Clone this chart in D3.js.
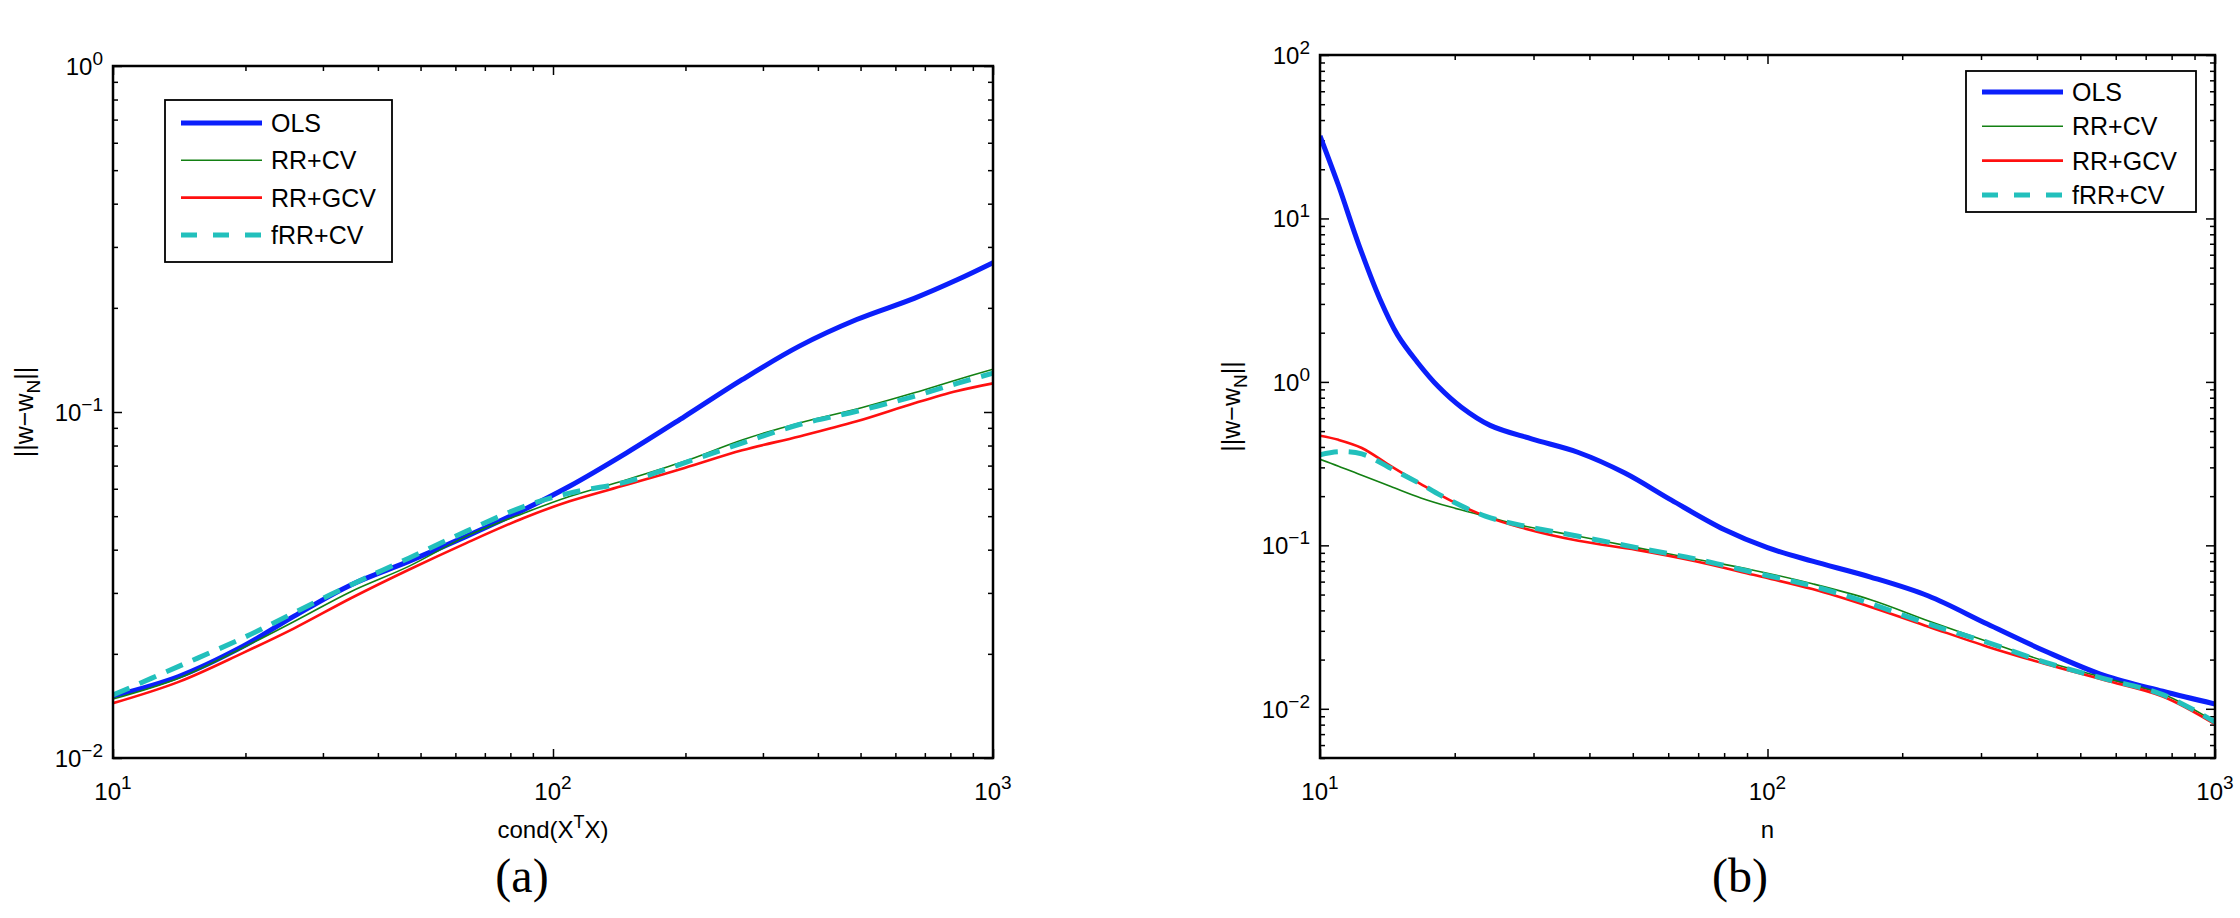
<!DOCTYPE html>
<html>
<head>
<meta charset="utf-8">
<script src="https://cdn.jsdelivr.net/npm/d3@7"></script>
<style>
  body { margin: 0; background: #fff; }
  text { font-family: "Liberation Sans", Arial, Helvetica, sans-serif; fill: #000; }
</style>
</head>
<body>
<svg id="chart" width="2240" height="918"></svg>
<script>
// panel (a): error vs cond(X'X)
const condX  = [10, 14.1, 19.7, 25.8, 34.8, 47, 63.5, 85.8, 109, 147, 199, 269, 363, 490, 662, 829, 1000];
const olsA   = [0.0151, 0.0172, 0.0210, 0.0257, 0.0317, 0.0370, 0.0437, 0.0522, 0.0610, 0.0762, 0.097, 0.124, 0.155, 0.185, 0.213, 0.241, 0.27];
const rrcvA  = [0.0148, 0.0170, 0.0208, 0.0248, 0.0303, 0.0358, 0.0437, 0.0510, 0.0570, 0.0637, 0.0720, 0.0830, 0.0930, 0.1020, 0.1136, 0.124, 0.133];
const rrgcvA = [0.0144, 0.0166, 0.0201, 0.0237, 0.0290, 0.0350, 0.0418, 0.0494, 0.0552, 0.0616, 0.0689, 0.0775, 0.0850, 0.0940, 0.106, 0.115, 0.121];
const frrcvA = [0.0152, 0.0184, 0.0222, 0.0263, 0.0317, 0.0378, 0.0452, 0.0533, 0.0583, 0.0628, 0.0713, 0.0813, 0.0920, 0.1005, 0.111, 0.121, 0.1295];

// panel (b): error vs n
const nOls   = [10, 11, 12.2, 13.6, 14.9, 16.5, 18.4, 20.7, 24, 29.7, 37.8, 48, 61, 80, 100, 126, 170, 229, 310, 418, 565, 764, 1000];
const olsB   = [32, 15.9, 6.95, 3.23, 1.94, 1.32, 0.933, 0.70, 0.542, 0.448, 0.37, 0.277, 0.189, 0.125, 0.0968, 0.080, 0.064, 0.049, 0.033, 0.0225, 0.0160, 0.0128, 0.0107];
const nRR    = [10, 11, 12.4, 14.4, 16.8, 19.5, 23.4, 28, 37.8, 51, 69, 93, 126, 170, 229, 310, 418, 565, 764, 1000];
const rrcvB  = [0.336, 0.305, 0.268, 0.229, 0.195, 0.172, 0.151, 0.133, 0.1136, 0.0968, 0.0826, 0.0705, 0.0582, 0.0465, 0.0345, 0.0258, 0.0195, 0.0155, 0.0123, 0.0083];
const rrgcvB = [0.468, 0.442, 0.394, 0.305, 0.237, 0.189, 0.151, 0.129, 0.1066, 0.0938, 0.080, 0.066, 0.0540, 0.0420, 0.0318, 0.0240, 0.0188, 0.0150, 0.0119, 0.00805];
const frrcvB = [0.358, 0.374, 0.363, 0.296, 0.237, 0.189, 0.151, 0.133, 0.1136, 0.0968, 0.0826, 0.0683, 0.0564, 0.0440, 0.0330, 0.0255, 0.0192, 0.0153, 0.0122, 0.0083];

const seriesNames = ['OLS', 'RR+CV', 'RR+GCV', 'fRR+CV'];

// line styles, same order as seriesNames
const styles = [
  { color: '#0b1ffb', width: 5, dash: null },
  { color: '#138013', width: 1.6, dash: null },
  { color: '#ff1010', width: 2.6, dash: null },
  { color: '#22c0bc', width: 5, dash: '18,11' }
];

const svg = d3.select('#chart');
svg.append('rect').attr('width', 2240).attr('height', 918).attr('fill', '#fff');

function pow10Label(sel, p, supDy) {
  sel.append('tspan').text('10');
  sel.append('tspan')
    .attr('dy', supDy)
    .style('font-size', '19px')
    .text(p < 0 ? '\u2212' + (-p) : String(p));
}

function drawPanel(o) {
  const x = d3.scaleLog().domain(o.xDomain).range([o.left, o.right]);
  const y = d3.scaleLog().domain(o.yDomain).range([o.bottom, o.top]);
  const g = svg.append('g');

  const clipId = 'clip' + o.tag.replace(/\W/g, '');
  g.append('clipPath').attr('id', clipId)
    .append('rect')
      .attr('x', o.left).attr('y', o.top)
      .attr('width', o.right - o.left).attr('height', o.bottom - o.top);

  // ticks, pointing inward on all four sides
  const xt = x.ticks().filter(v => v <= o.xDomain[1]);
  const yt = y.ticks().filter(v => v >= o.yDomain[0] && v <= o.yDomain[1]);
  const isMajor = v => Math.abs(Math.log10(v) - Math.round(Math.log10(v))) < 1e-9;

  const addAxis = (axis, tx, ty) => {
    g.append('g')
      .attr('transform', `translate(${tx},${ty})`)
      .call(axis)
      .call(s => s.select('.domain').remove())
      .call(s => s.selectAll('line').attr('stroke', '#000').attr('stroke-width', 1.5));
  };
  [[xt.filter(v => !isMajor(v)), 5], [xt.filter(isMajor), 9]].forEach(([vals, len]) => {
    addAxis(d3.axisBottom(x).tickValues(vals).tickSize(-len).tickFormat(''), 0, o.bottom);
    addAxis(d3.axisTop(x).tickValues(vals).tickSize(-len).tickFormat(''), 0, o.top);
  });
  [[yt.filter(v => !isMajor(v)), 5], [yt.filter(isMajor), 9]].forEach(([vals, len]) => {
    addAxis(d3.axisLeft(y).tickValues(vals).tickSize(-len).tickFormat(''), o.left, 0);
    addAxis(d3.axisRight(y).tickValues(vals).tickSize(-len).tickFormat(''), o.right, 0);
  });

  // curves
  const line = d3.line()
    .x(d => x(d[0]))
    .y(d => y(d[1]))
    .curve(d3.curveCatmullRom.alpha(0.5));

  o.series.forEach((s, i) => {
    const st = styles[i];
    g.append('path')
      .datum(d3.zip(s.x, s.y))
      .attr('clip-path', `url(#${clipId})`)
      .attr('fill', 'none')
      .attr('stroke', st.color)
      .attr('stroke-width', st.width)
      .attr('stroke-dasharray', st.dash)
      .attr('stroke-linejoin', 'round')
      .attr('d', line);
  });

  // frame
  g.append('rect')
    .attr('x', o.left).attr('y', o.top)
    .attr('width', o.right - o.left).attr('height', o.bottom - o.top)
    .attr('fill', 'none').attr('stroke', '#000').attr('stroke-width', 2.5);

  // tick labels
  xt.filter(isMajor).forEach(v => {
    g.append('text')
      .attr('x', x(v)).attr('y', o.bottom + 42)
      .attr('text-anchor', 'middle')
      .style('font-size', '24px')
      .call(pow10Label, Math.round(Math.log10(v)), -11);
  });
  yt.filter(isMajor).forEach(v => {
    g.append('text')
      .attr('x', o.left - 10).attr('y', y(v) + 9)
      .attr('text-anchor', 'end')
      .style('font-size', '24px')
      .call(pow10Label, Math.round(Math.log10(v)), -10);
  });

  // axis titles
  const xl = g.append('text')
    .attr('x', (o.left + o.right) / 2).attr('y', 838)
    .attr('text-anchor', 'middle')
    .style('font-size', '24px');
  o.xLabel(xl);

  const yl = g.append('text')
    .attr('transform', `translate(${o.left - 80},${(o.top + o.bottom) / 2}) rotate(-90)`)
    .attr('text-anchor', 'middle')
    .style('font-size', '25px');
  yl.append('tspan').text('||w\u2212w');
  yl.append('tspan').attr('dy', 7).style('font-size', '19px').text('N');
  yl.append('tspan').attr('dy', -7).text('||');

  g.append('text')
    .attr('x', o.tagX).attr('y', 892)
    .attr('text-anchor', 'middle')
    .style('font-family', '"Liberation Serif", "Times New Roman", serif')
    .style('font-size', '48px')
    .text(o.tag);

  // legend
  const L = o.legend;
  const lg = g.append('g');
  lg.append('rect')
    .attr('x', L.x).attr('y', L.y).attr('width', L.w).attr('height', L.h)
    .attr('fill', '#fff').attr('stroke', '#000').attr('stroke-width', 1.8);
  seriesNames.forEach((name, i) => {
    const cy = L.y + L.first + i * L.step;
    const st = styles[i];
    lg.append('line')
      .attr('x1', L.x + 16).attr('x2', L.x + 97)
      .attr('y1', cy).attr('y2', cy)
      .attr('stroke', st.color)
      .attr('stroke-width', st.width)
      .attr('stroke-dasharray', st.dash ? '16,16' : null);
    lg.append('text')
      .attr('x', L.x + 106).attr('y', cy + 9)
      .style('font-size', '25px')
      .text(name);
  });
}

drawPanel({
  tag: '(a)', tagX: 522,
  left: 113, right: 993, top: 66, bottom: 758,
  xDomain: [10, 1000], yDomain: [0.01, 1],
  series: [
    { x: condX, y: olsA },
    { x: condX, y: rrcvA },
    { x: condX, y: rrgcvA },
    { x: condX, y: frrcvA }
  ],
  xLabel: t => {
    t.append('tspan').text('cond(X');
    t.append('tspan').attr('dy', -10).style('font-size', '18px').text('T');
    t.append('tspan').attr('dy', 10).text('X)');
  },
  legend: { x: 165, y: 100, w: 227, h: 162, first: 23, step: 37.3 }
});

drawPanel({
  tag: '(b)', tagX: 1740,
  left: 1320, right: 2215, top: 55, bottom: 758,
  xDomain: [10, 1000], yDomain: [0.005, 100],
  series: [
    { x: nOls, y: olsB },
    { x: nRR, y: rrcvB },
    { x: nRR, y: rrgcvB },
    { x: nRR, y: frrcvB }
  ],
  xLabel: t => t.text('n'),
  legend: { x: 1966, y: 71, w: 230, h: 141, first: 21, step: 34.3 }
});
</script>
</body>
</html>
